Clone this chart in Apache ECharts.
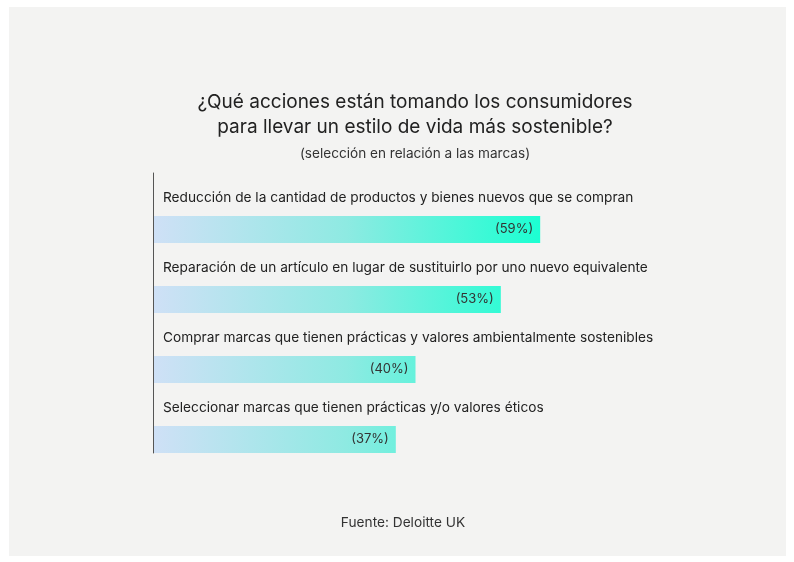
<!DOCTYPE html>
<html>
<head>
<meta charset="utf-8">
<script src="https://cdn.jsdelivr.net/npm/echarts@6/dist/echarts.min.js"></script>
<style>
  html, body { margin: 0; padding: 0; background: #ffffff; }
  #chart { width: 794px; height: 562px; }
</style>
</head>
<body>
<div id="chart"></div>
<script>
// Acciones de los consumidores hacia un estilo de vida sostenible (Deloitte UK)
const categories = [
  'Reducción de la cantidad de productos y bienes nuevos que se compran',
  'Reparación de un artículo en lugar de sustituirlo por uno nuevo equivalente',
  'Comprar marcas que tienen prácticas y valores ambientalmente sostenibles',
  'Seleccionar marcas que tienen prácticas y/o valores éticos'
];
const values = [59, 53, 40, 37];

const titleLines = [
  '¿Qué acciones están tomando los consumidores',
  'para llevar un estilo de vida más sostenible?'
];
const subtitle = '(selección en relación a las marcas)';
const source = 'Fuente: Deloitte UK';

const FONT = 'Inter, "Noto Sans", sans-serif';
const chart = echarts.init(document.getElementById('chart'), null, { renderer: 'canvas' });

// Gradient spans the whole value scale, so shorter bars end in a paler tone
const barGradient = new echarts.graphic.LinearGradient(153, 0, 540, 0, [
  { offset: 0, color: '#cfe0f6' },
  { offset: 0.5, color: '#8eeae2' },
  { offset: 1, color: '#1cffd2' }
], true);

chart.setOption({
  backgroundColor: '#ffffff',
  animation: false,
  graphic: [
    { type: 'rect', shape: { x: 9, y: 7, width: 777, height: 549 }, style: { fill: '#f3f3f2' }, z: -10 },
    {
      type: 'text', x: 415, y: 115,
      style: {
        text: titleLines.join('\n'), textAlign: 'center', textVerticalAlign: 'middle',
        font: '19px ' + FONT, fill: '#222', lineHeight: 25
      }
    },
    {
      type: 'text', x: 415, y: 154,
      style: {
        text: subtitle, textAlign: 'center', textVerticalAlign: 'middle',
        font: '13.6px ' + FONT, fill: '#333'
      }
    },
    {
      type: 'text', x: 403, y: 523,
      style: {
        text: source, textAlign: 'center', textVerticalAlign: 'middle',
        font: '13.7px ' + FONT, fill: '#333'
      }
    }
  ],
  grid: { left: 153, top: 173, width: 525, height: 280, containLabel: false },
  xAxis: {
    type: 'value', min: 0, max: 80,
    show: false
  },
  yAxis: {
    type: 'category',
    data: categories,
    inverse: true,
    z: 10,
    axisLine: { show: true, lineStyle: { color: '#555', width: 1 } },
    axisTick: { show: false },
    axisLabel: { show: false }
  },
  series: [
    {
      // transparent spacer row that carries the category text above each bar
      name: 'etiqueta',
      type: 'bar',
      data: values,
      barWidth: 43,
      barGap: 0,
      silent: true,
      itemStyle: { color: 'rgba(0,0,0,0)' },
      label: {
        show: true,
        position: 'insideLeft',
        distance: 10,
        offset: [0, 3],
        formatter: p => p.name,
        fontFamily: FONT, fontSize: 13.7, color: '#222'
      }
    },
    {
      name: 'porcentaje',
      type: 'bar',
      data: values,
      barWidth: 27,
      barGap: 0,
      itemStyle: { color: barGradient },
      label: {
        show: true,
        position: 'insideRight',
        distance: 7,
        formatter: p => '(' + p.value + '%)',
        fontFamily: FONT, fontSize: 13, color: '#333'
      }
    }
  ]
});
</script>
</body>
</html>
